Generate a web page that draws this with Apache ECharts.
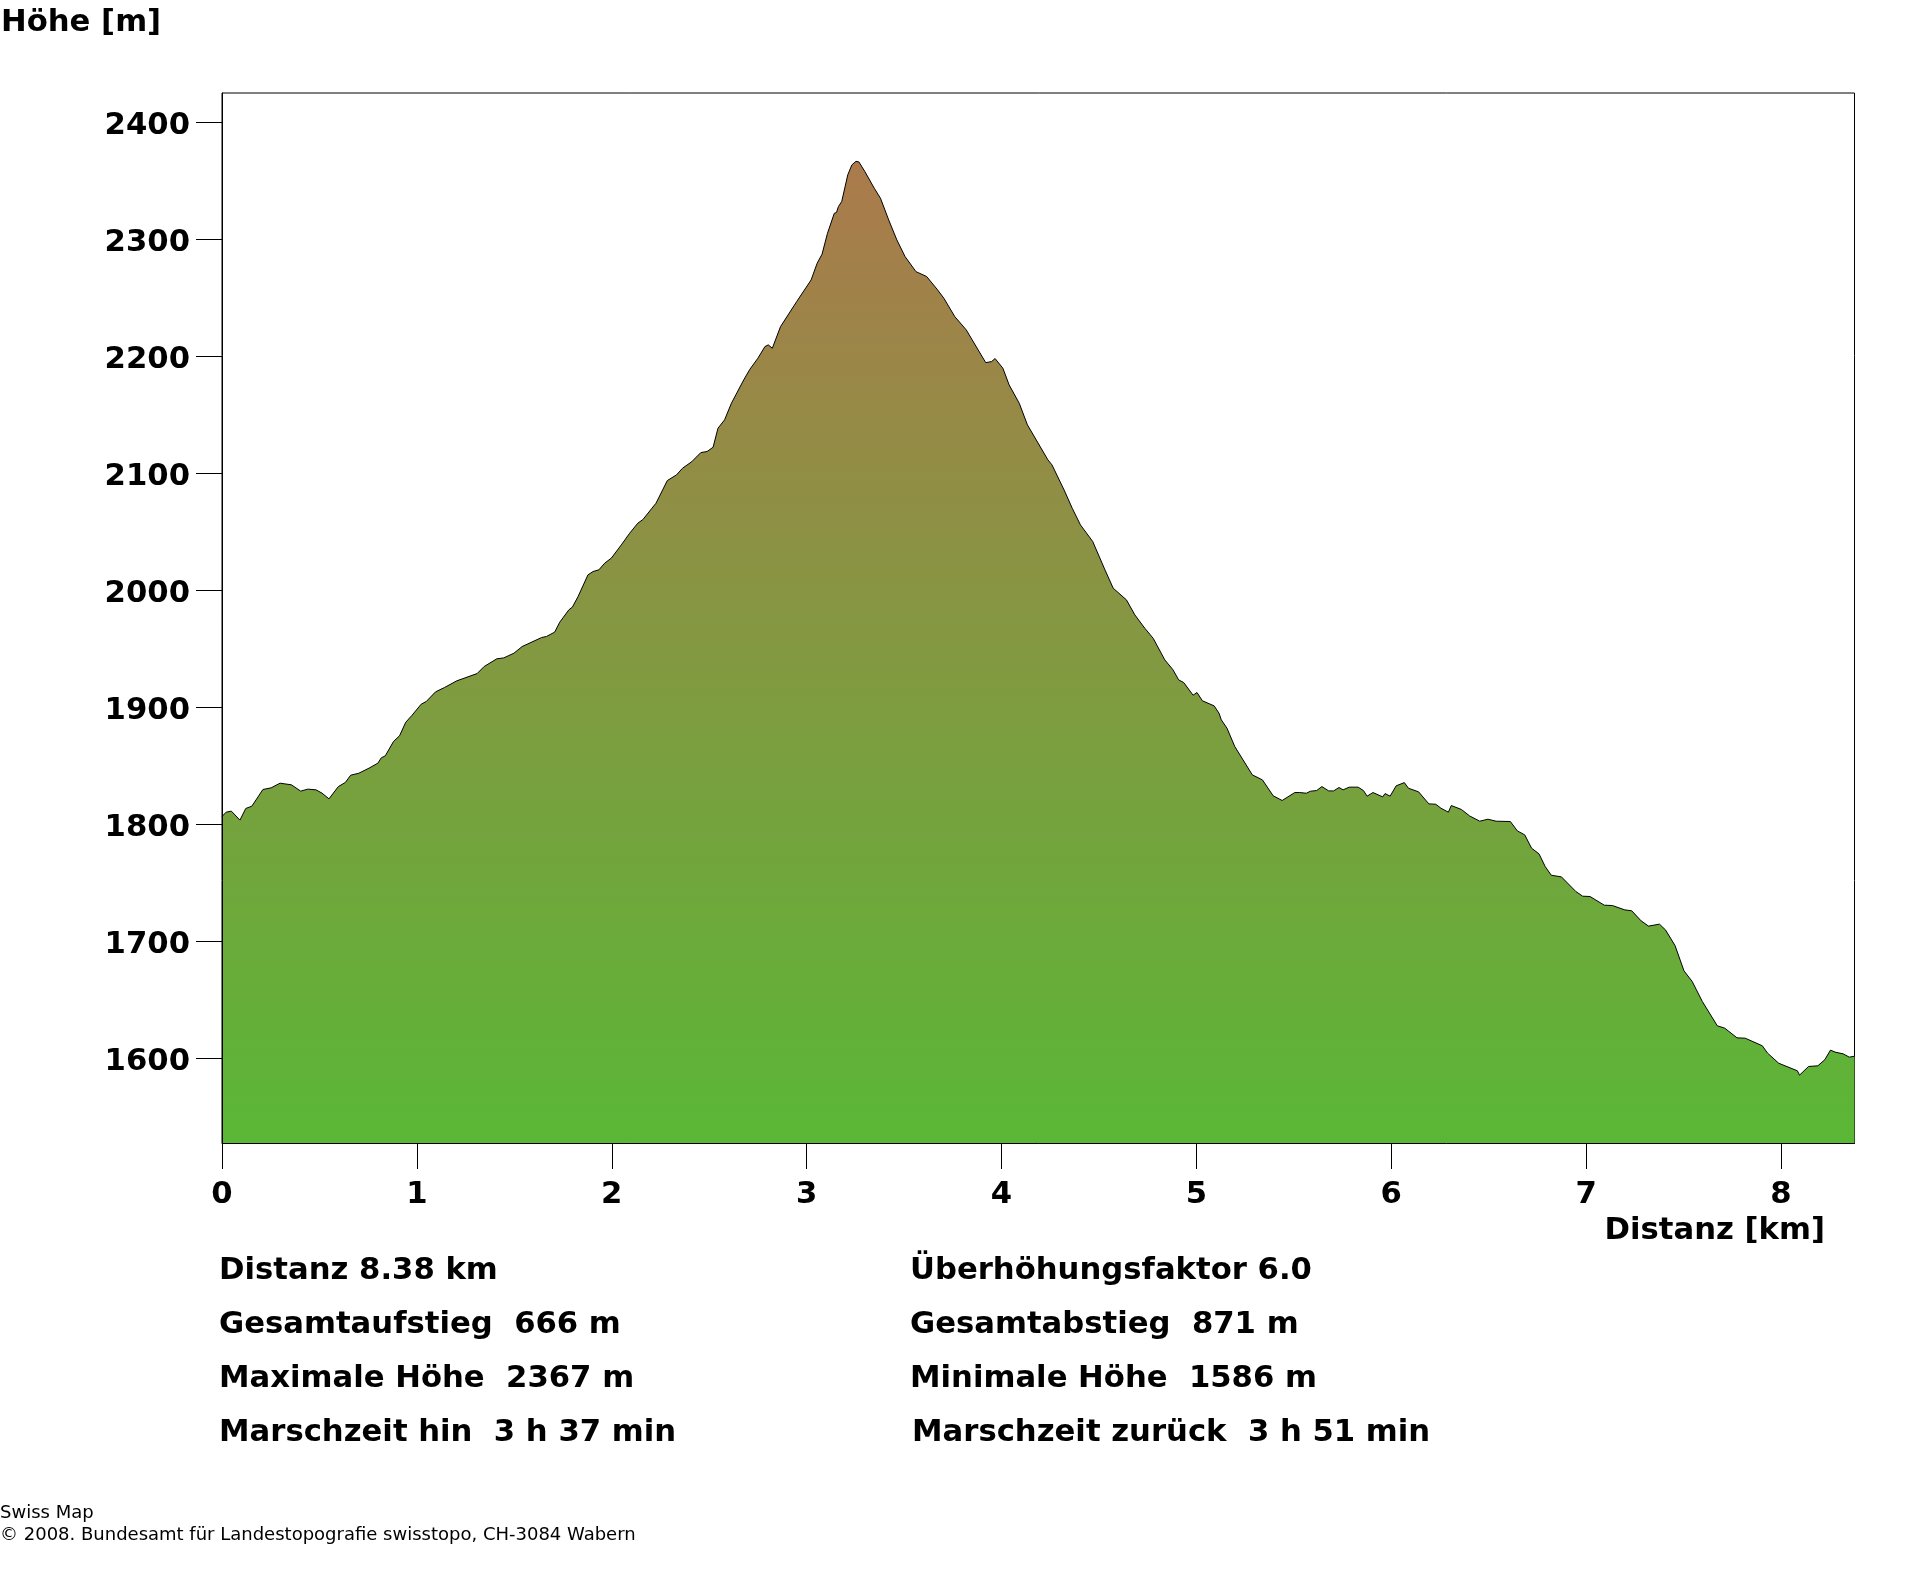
<!DOCTYPE html>
<html>
<head>
    <meta charset="UTF-8">
    <title>Höhenprofil</title>
    <script src="https://cdn.jsdelivr.net/npm/echarts/dist/echarts.min.js"></script>
    <style>
        html, body { margin: 0; padding: 0; background: #fff; }
        #main { width: 1920px; height: 1572px; }
    </style>
</head>
<body>
    <div id="main"></div>
    <script>
        // distance along the route [km]
        var distances = [
            0, 0.021, 0.048, 0.092, 0.122, 0.153, 0.21, 0.252, 0.298, 0.356, 0.404, 0.44, 0.482, 0.513, 0.549, 0.597,
            0.633, 0.66, 0.702, 0.754, 0.8, 0.817, 0.838, 0.88, 0.911, 0.943, 0.974, 1.022, 1.048, 1.096, 1.142, 1.205,
            1.309, 1.345, 1.41, 1.446, 1.498, 1.54, 1.64, 1.665, 1.707, 1.733, 1.78, 1.798, 1.827, 1.878, 1.904, 1.934,
            1.964, 1.998, 2.049, 2.092, 2.134, 2.16, 2.206, 2.227, 2.285, 2.332, 2.363, 2.411, 2.457, 2.489, 2.52, 2.545,
            2.579, 2.614, 2.677, 2.709, 2.75, 2.786, 2.803, 2.824, 2.866, 2.949, 3.023, 3.054, 3.079, 3.107, 3.142, 3.153,
            3.163, 3.18, 3.211, 3.232, 3.253, 3.268, 3.299, 3.347, 3.379, 3.421, 3.463, 3.505, 3.561, 3.616, 3.672, 3.704,
            3.76, 3.819, 3.919, 3.949, 3.967, 4.007, 4.039, 4.091, 4.133, 4.238, 4.259, 4.321, 4.363, 4.405, 4.468, 4.531,
            4.573, 4.641, 4.684, 4.735, 4.778, 4.838, 4.88, 4.909, 4.935, 4.983, 5.003, 5.031, 5.091, 5.116, 5.128, 5.157,
            5.197, 5.287, 5.339, 5.394, 5.44, 5.505, 5.53, 5.564, 5.585, 5.617, 5.644, 5.679, 5.704, 5.732, 5.753, 5.784,
            5.83, 5.857, 5.876, 5.906, 5.956, 5.968, 5.994, 6.025, 6.067, 6.088, 6.14, 6.193, 6.228, 6.255, 6.293, 6.308,
            6.36, 6.402, 6.454, 6.496, 6.538, 6.611, 6.647, 6.685, 6.72, 6.758, 6.79, 6.821, 6.873, 6.947, 6.982, 7.02,
            7.093, 7.135, 7.198, 7.234, 7.282, 7.32, 7.376, 7.407, 7.456, 7.502, 7.544, 7.596, 7.673, 7.711, 7.774, 7.816,
            7.904, 7.931, 7.988, 8.084, 8.095, 8.141, 8.189, 8.224, 8.254, 8.277, 8.319, 8.35, 8.377
        ];
        // elevation at each distance [m]
        var elevations = [
            1806.5, 1810.2, 1811.1, 1803.4, 1813.4, 1815.3, 1829.6, 1831, 1835, 1833.6, 1828.2, 1829.9, 1829.3, 1826.5, 1821.6, 1832.1,
            1835.6, 1841.8, 1843.5, 1847.8, 1852.1, 1856.6, 1858.4, 1870.6, 1875.5, 1887.1, 1892.8, 1902.5, 1904.8, 1913.1, 1916.8, 1922.5,
            1928.7, 1934.7, 1941.3, 1942.1, 1946.1, 1951.8, 1959.5, 1960.4, 1964.1, 1972.6, 1983.2, 1985.5, 1994.5, 2013.1, 2015.9, 2017.4,
            2023.1, 2027.4, 2038.7, 2048.7, 2057.3, 2060.4, 2070, 2074.3, 2093.7, 2098.5, 2104.2, 2109.9, 2117.6, 2118.5, 2122.2, 2138.4,
            2145.6, 2159.8, 2179.7, 2188.9, 2198.3, 2208.2, 2209.7, 2206.8, 2225.3, 2246.7, 2265.2, 2279.5, 2287.2, 2305.1, 2322.2, 2322.8,
            2327.9, 2332.2, 2355, 2363.5, 2366.6, 2366.1, 2357.8, 2343.6, 2335, 2316.5, 2299.4, 2285.2, 2272.3, 2268.1, 2256.7, 2249.6,
            2233.9, 2222.5, 2194.5, 2195.4, 2198, 2189.7, 2175.5, 2159.8, 2141.3, 2111.4, 2107.1, 2085.7, 2070, 2055.8, 2041.6, 2017.3,
            2001.7, 1991.7, 1978.9, 1967.5, 1958.9, 1940.4, 1931.9, 1923.3, 1921, 1910.2, 1912.5, 1905.4, 1901.1, 1894.8, 1889.1, 1882,
            1866.3, 1842.1, 1837.8, 1824.2, 1820.2, 1827, 1827, 1826.4, 1828.1, 1828.7, 1832.1, 1828.4, 1828.4, 1831.3, 1829.3, 1831.6,
            1831.6, 1828.7, 1823.9, 1827, 1823.3, 1826.1, 1823.9, 1832.7, 1835.5, 1830.7, 1827.6, 1817.3, 1817, 1813.6, 1810.2, 1815.9,
            1812.5, 1807, 1802.5, 1804.2, 1802.5, 1802.2, 1794.2, 1790.8, 1779.4, 1774.6, 1763.7, 1756.3, 1754.9, 1742.4, 1738.4, 1738.1,
            1730.7, 1730.4, 1726.7, 1725.9, 1717.3, 1712.8, 1714.5, 1709.6, 1696.2, 1674.6, 1665.5, 1648.4, 1627.6, 1625.6, 1617.3, 1617,
            1610.5, 1604.2, 1595.6, 1589.1, 1585.4, 1592.8, 1593.4, 1598.5, 1606.8, 1605.1, 1603.6, 1600.8, 1601.6
        ];
        var distanceTicks = [0, 1, 2, 3, 4, 5, 6, 7, 8];
        var heightTicks = [1600, 1700, 1800, 1900, 2000, 2100, 2200, 2300, 2400];

        var statsLeft = ['Distanz 8.38 km', 'Gesamtaufstieg  666 m', 'Maximale Höhe  2367 m', 'Marschzeit hin  3 h 37 min'];
        var statsRight = ['Überhöhungsfaktor 6.0', 'Gesamtabstieg  871 m', 'Minimale Höhe  1586 m', 'Marschzeit zurück  3 h 51 min'];
        var footer = ['Swiss Map', '© 2008. Bundesamt für Landestopografie swisstopo, CH-3084 Wabern'];

        var boldFont = '700 30.7px "DejaVu Sans", sans-serif';

        function label(text, x, y, font, align) {
            return {
                type: 'text',
                x: x,
                y: y,
                silent: true,
                style: { text: text, font: font, fill: '#000', textAlign: align || 'left', textVerticalAlign: 'middle' }
            };
        }

        var texts = [
            label('Höhe [m]', 1, 23, boldFont),
            label('Distanz [km]', 1825, 1231, boldFont, 'right')
        ];
        statsLeft.forEach(function (t, i) {
            texts.push(label(t, 219, 1271 + i * 54, boldFont));
        });
        statsRight.forEach(function (t, i) {
            texts.push(label(t, i === 3 ? 912 : 910, 1271 + i * 54, boldFont));
        });
        footer.forEach(function (t, i) {
            texts.push(label(t, 0, 1513 + i * 22, '400 18px "DejaVu Sans", sans-serif'));
        });

        var myChart = echarts.init(document.getElementById('main'));
        var option = {
            animation: false,
            backgroundColor: '#fff',
            grid: {
                left: 222,
                top: 93,
                width: 1632.5,
                height: 1050,
                show: true,
                borderColor: '#000',
                borderWidth: 1,
                backgroundColor: '#fff'
            },
            xAxis: {
                type: 'value',
                min: 0,
                max: 8.377,
                z: 5,
                splitLine: { show: false },
                axisLine: { lineStyle: { color: '#000', width: 1 } },
                axisTick: { show: true, length: 26, customValues: distanceTicks, lineStyle: { color: '#000', width: 1 } },
                axisLabel: {
                    customValues: distanceTicks,
                    margin: 37,
                    color: '#000',
                    fontFamily: 'DejaVu Sans',
                    fontWeight: 700,
                    fontSize: 30.7
                }
            },
            yAxis: {
                type: 'value',
                min: 1527.4,
                max: 2425,
                z: 5,
                splitLine: { show: false },
                axisLine: { show: true, lineStyle: { color: '#000', width: 1 } },
                axisTick: { show: true, length: 26, customValues: heightTicks, lineStyle: { color: '#000', width: 1 } },
                axisLabel: {
                    customValues: heightTicks,
                    formatter: function (v) { return String(v); },
                    margin: 32,
                    verticalAlign: 'top',
                    lineHeight: 7,
                    color: '#000',
                    fontFamily: 'DejaVu Sans',
                    fontWeight: 700,
                    fontSize: 30.7
                }
            },
            series: [{
                type: 'line',
                data: distances.map(function (d, i) { return [d, elevations[i]]; }),
                symbol: 'none',
                smooth: false,
                lineStyle: { color: '#000', width: 1 },
                areaStyle: {
                    origin: 'start',
                    opacity: 1,
                    color: new echarts.graphic.LinearGradient(0, 0, 0, 1, [
                        { offset: 0, color: '#ab7a4c' },
                        { offset: 1, color: '#5ab736' }
                    ])
                }
            }],
            graphic: texts
        };
        myChart.setOption(option);
    </script>
</body>
</html>
